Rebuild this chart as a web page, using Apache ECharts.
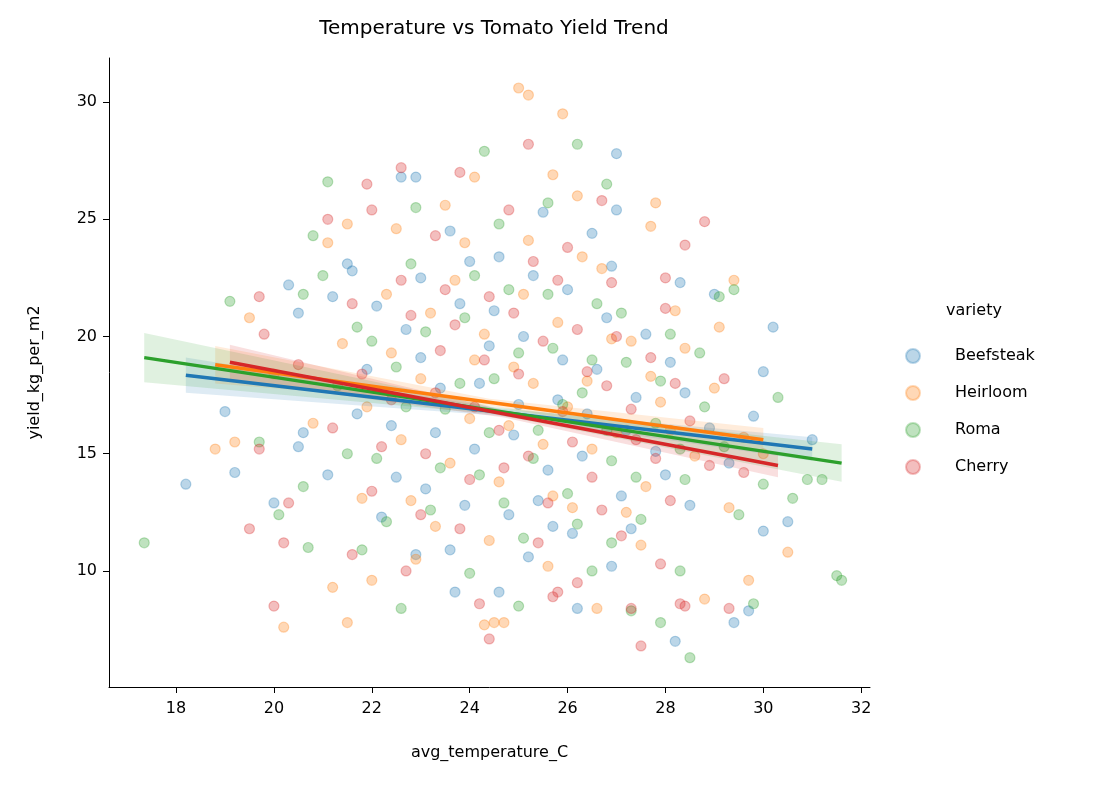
<!DOCTYPE html>
<html>
<head>
<meta charset="utf-8">
<script src="https://cdn.jsdelivr.net/npm/echarts@6/dist/echarts.min.js"></script>
<style>html,body{margin:0;padding:0;background:#fff}#chart{width:1118px;height:788px}</style>
</head>
<body>
<div id="chart"></div>
<script>
const varieties = ['Beefsteak', 'Heirloom', 'Roma', 'Cherry'];
const colors = ['#1f77b4', '#ff7f0e', '#2ca02c', '#d62728'];
const xTicks = [18, 20, 22, 24, 26, 28, 30, 32];
const yTicks = [10, 15, 20, 25, 30];

const beefsteakPoints = [
  [18.2,13.7],[19.2,14.2],[19.0,16.8],[20.3,22.2],[20.5,21.0],[20.5,15.3],[20.0,12.9],[21.2,21.7],
  [21.5,23.1],[21.6,22.8],[22.6,26.8],[22.9,26.8],[23.0,22.5],[27.0,27.8],[26.2,8.4],[28.2,7.0],
  [29.4,7.8],[29.7,8.3],[30.0,18.5],[30.2,20.4],[30.5,12.1],[31.0,15.6],[30.0,11.7],[29.0,21.8],
  [28.3,22.3],[26.5,24.4],[27.0,25.4],[25.5,25.3],[24.6,9.1],[23.7,9.1],[22.9,10.7],[20.6,15.9],
  [21.1,14.1],[21.9,18.6],[22.4,16.2],[22.7,20.3],[23.1,13.5],[23.4,17.8],[23.8,21.4],[24.1,15.2],
  [24.4,19.6],[24.8,12.4],[25.0,17.1],[25.3,22.6],[25.6,14.3],[25.9,19.0],[26.1,11.6],[26.4,16.7],
  [26.8,20.8],[27.1,13.2],[27.4,17.4],[27.8,15.1],[28.1,18.9],[28.5,12.8],[28.9,16.1],[29.3,14.6],
  [29.8,16.6],[22.2,12.3],[24.6,23.4],[26.9,10.2],[23.6,24.5],[25.2,10.6],
  [22.1,21.3],[22.5,14.0],[23.0,19.1],[23.3,15.9],[23.9,12.8],[24.2,18.0],[24.5,21.1],[24.9,15.8],
  [25.1,20.0],[25.4,13.0],[25.8,17.3],[26.0,22.0],[26.3,14.9],[26.6,18.6],[27.2,16.0],[27.6,20.1],
  [28.0,14.1],[28.4,17.6],[21.7,16.7],[23.6,10.9],[25.7,11.9],[27.3,11.8],[24.0,23.2],[26.9,23.0]
];
const heirloomPoints = [
  [18.8,15.2],[19.2,15.5],[19.5,20.8],[20.2,7.6],[21.2,9.3],[21.5,7.8],[21.1,24.0],[21.5,24.8],
  [22.5,24.6],[24.1,26.8],[25.0,30.6],[25.2,30.3],[25.9,29.5],[25.7,26.9],[27.7,24.7],[27.8,25.7],
  [29.4,22.4],[29.1,20.4],[30.5,10.8],[29.7,9.6],[28.8,8.8],[26.6,8.4],[24.5,7.8],[24.7,7.8],
  [24.3,7.7],[22.0,9.6],[29.3,12.7],[20.0,18.4],[20.8,16.3],[21.4,19.7],[21.8,13.1],[22.3,21.8],
  [22.6,15.6],[23.0,18.2],[23.3,11.9],[23.7,22.4],[24.0,16.5],[24.3,20.1],[24.6,13.8],[24.9,18.7],
  [25.2,24.1],[25.5,15.4],[25.8,20.6],[26.1,12.7],[26.4,18.1],[26.7,22.9],[27.0,15.9],[27.3,19.8],
  [27.6,13.6],[27.9,17.2],[28.2,21.1],[28.6,14.9],[29.0,17.8],[29.6,15.7],[30.0,15.0],[23.5,25.6],
  [26.2,26.0],[22.9,10.5],[25.6,10.2],[27.5,11.1],
  [21.9,17.0],[22.4,19.3],[22.8,13.0],[23.2,21.0],[23.6,14.6],[24.1,19.0],[24.4,11.3],[24.8,16.2],
  [25.1,21.8],[25.3,18.0],[25.7,13.2],[26.0,17.0],[26.5,15.2],[26.9,19.9],[27.2,12.5],[27.7,18.3],
  [28.1,16.0],[28.4,19.5],[23.9,24.0],[26.3,23.4]
];
const romaPoints = [
  [17.35,11.2],[19.1,21.5],[19.7,15.5],[20.1,12.4],[20.6,21.8],[20.8,24.3],[21.1,26.6],[21.0,22.6],
  [24.3,27.9],[26.2,28.2],[26.8,26.5],[28.5,6.3],[27.9,7.8],[29.1,21.7],[29.4,22.0],[30.3,17.4],
  [31.5,9.8],[31.6,9.6],[31.2,13.9],[30.9,13.9],[30.6,13.1],[29.8,8.6],[28.3,10.0],[22.6,8.4],
  [25.0,8.5],[27.3,8.3],[20.6,13.6],[21.8,10.9],[20.7,11.0],[21.3,17.9],[21.7,20.4],[22.1,14.8],
  [22.5,18.7],[22.8,23.1],[23.2,12.6],[23.5,16.9],[23.9,20.8],[24.2,14.1],[24.5,18.2],[24.8,22.0],
  [25.1,11.4],[25.4,16.0],[25.7,19.5],[26.0,13.3],[26.3,17.6],[26.6,21.4],[26.9,14.7],[27.2,18.9],
  [27.5,12.2],[27.8,16.3],[28.1,20.1],[28.4,13.9],[28.8,17.0],[29.2,15.3],[29.5,12.4],[30.0,13.7],
  [22.9,25.5],[25.6,25.7],[24.0,9.9],[26.5,10.0],
  [21.5,15.0],[22.0,19.8],[22.3,12.1],[22.7,17.0],[23.1,20.2],[23.4,14.4],[23.8,18.0],[24.1,22.6],
  [24.4,15.9],[24.7,12.9],[25.0,19.3],[25.3,14.8],[25.6,21.8],[25.9,17.1],[26.2,12.0],[26.5,19.0],
  [26.8,16.0],[27.1,21.0],[27.4,14.0],[27.9,18.1],[28.3,15.2],[28.7,19.3],[24.6,24.8],[26.9,11.2]
];
const cherryPoints = [
  [19.7,21.7],[19.8,20.1],[20.0,8.5],[20.2,11.2],[19.5,11.8],[20.3,12.9],[21.9,26.5],[22.0,25.4],
  [22.6,27.2],[23.8,27.0],[25.2,28.2],[26.7,25.8],[28.4,23.9],[28.8,24.9],[28.0,22.5],[28.0,21.2],
  [27.3,8.4],[28.3,8.6],[28.4,8.5],[29.3,8.4],[29.6,14.2],[27.5,6.8],[24.4,7.1],[24.2,8.6],
  [26.2,9.5],[25.7,8.9],[25.8,9.1],[21.1,25.0],[21.6,10.7],[19.7,15.2],[20.5,18.8],[21.2,16.1],
  [21.6,21.4],[22.0,13.4],[22.4,17.3],[22.8,20.9],[23.1,15.0],[23.4,19.4],[23.8,11.8],[24.1,17.0],
  [24.4,21.7],[24.7,14.4],[25.0,18.4],[25.3,23.2],[25.6,12.9],[25.9,16.8],[26.2,20.3],[26.5,14.0],
  [26.8,17.9],[27.1,11.5],[27.4,15.6],[27.7,19.1],[28.1,13.0],[28.5,16.4],[28.9,14.5],[29.2,18.2],
  [23.3,24.3],[26.0,23.8],[22.7,10.0],[27.9,10.3],
  [21.8,18.4],[22.2,15.3],[22.6,22.4],[23.0,12.4],[23.3,17.6],[23.7,20.5],[24.0,13.9],[24.3,19.0],
  [24.6,16.0],[24.9,21.0],[25.2,14.9],[25.5,19.8],[25.8,22.4],[26.1,15.5],[26.4,18.5],[26.7,12.6],
  [27.0,20.0],[27.3,16.9],[27.8,14.8],[28.2,18.0],[23.5,22.0],[25.4,11.2],[26.9,22.3],[24.8,25.4]
];

// regression fits: [xStart, yStart, xEnd, yEnd]
const fitLines = [
  [18.2, 18.35, 31.0, 15.2],
  [18.8, 18.8, 30.0, 15.6],
  [17.35, 19.1, 31.6, 14.6],
  [19.1, 18.9, 30.3, 14.5]
];
// confidence half-width at start, middle, end
const bandWidths = [
  [0.75, 0.15, 0.5],
  [0.8, 0.15, 0.5],
  [1.05, 0.15, 0.8],
  [0.75, 0.15, 0.5]
];
const pointSets = [beefsteakPoints, heirloomPoints, romaPoints, cherryPoints];

const chart = echarts.init(document.getElementById('chart'));
const series = [];
varieties.forEach((name, i) => {
  series.push({
    name: name,
    type: 'scatter',
    data: pointSets[i],
    symbolSize: 10,
    itemStyle: { color: colors[i], opacity: 0.3, borderColor: colors[i], borderWidth: 1.2 },
    z: 2
  });
});
varieties.forEach((name, i) => {
  const [x0, y0, x1, y1] = fitLines[i];
  const xm = (x0 + x1) / 2, ym = (y0 + y1) / 2;
  const w = bandWidths[i];
  const upper = [[x0, y0 + w[0]], [xm, ym + w[1]], [x1, y1 + w[2]]];
  const lower = [[x1, y1 - w[2]], [xm, ym - w[1]], [x0, y0 - w[0]]];
  const poly = upper.concat(lower);
  series.push({
    name: name + ' band', type: 'custom', silent: true, z: 3,
    data: poly,
    encode: { x: 0, y: 1 },
    renderItem: function (params, api) {
      if (params.dataIndex !== 0) return null;
      return {
        type: 'polygon',
        shape: { points: poly.map(p => api.coord(p)) },
        style: { fill: colors[i], opacity: 0.15 }
      };
    }
  });
  series.push({
    name: name + ' fit', type: 'line', symbol: 'none', silent: true,
    lineStyle: { color: colors[i], width: 3.5 }, data: [[x0, y0], [x1, y1]], z: 4
  });
});

chart.setOption({
  animation: false,
  title: {
    text: 'Temperature vs Tomato Yield Trend', left: 489, top: 14, textAlign: 'center',
    textStyle: { fontFamily: 'DejaVu Sans', fontSize: 20, fontWeight: 'normal', color: '#000' }
  },
  grid: { left: 109, right: 248, top: 58, bottom: 101 },
  legend: {
    data: varieties, orient: 'vertical', left: 900, top: 343, itemGap: 21,
    icon: 'circle', itemWidth: 14, itemHeight: 14,
    textStyle: { fontFamily: 'DejaVu Sans', fontSize: 16, color: '#000', padding: [0, 0, 0, 30] }
  },
  graphic: [{ type: 'text', left: 946, top: 303, style: { text: 'variety', font: '16px DejaVu Sans', fill: '#000' } }],
  xAxis: {
    type: 'value', min: 16.63, max: 32.18, name: 'avg_temperature_C', nameLocation: 'middle', nameGap: 58,
    nameTextStyle: { fontFamily: 'DejaVu Sans', fontSize: 16, color: '#000' },
    axisLine: { lineStyle: { color: '#000' } },
    axisTick: { customValues: xTicks, length: 6, lineStyle: { color: '#000' } },
    axisLabel: { customValues: xTicks, fontFamily: 'DejaVu Sans', fontSize: 16, color: '#000', margin: 14 },
    splitLine: { show: false }
  },
  yAxis: {
    type: 'value', min: 5.05, max: 31.88, name: 'yield_kg_per_m2', nameLocation: 'middle', nameGap: 66,
    nameTextStyle: { fontFamily: 'DejaVu Sans', fontSize: 16, color: '#000' },
    axisLine: { show: true, lineStyle: { color: '#000' } },
    axisTick: { show: true, customValues: yTicks, length: 6, lineStyle: { color: '#000' } },
    axisLabel: { customValues: yTicks, fontFamily: 'DejaVu Sans', fontSize: 16, color: '#000', margin: 12 },
    splitLine: { show: false }
  },
  series: series
});
</script>
</body>
</html>
